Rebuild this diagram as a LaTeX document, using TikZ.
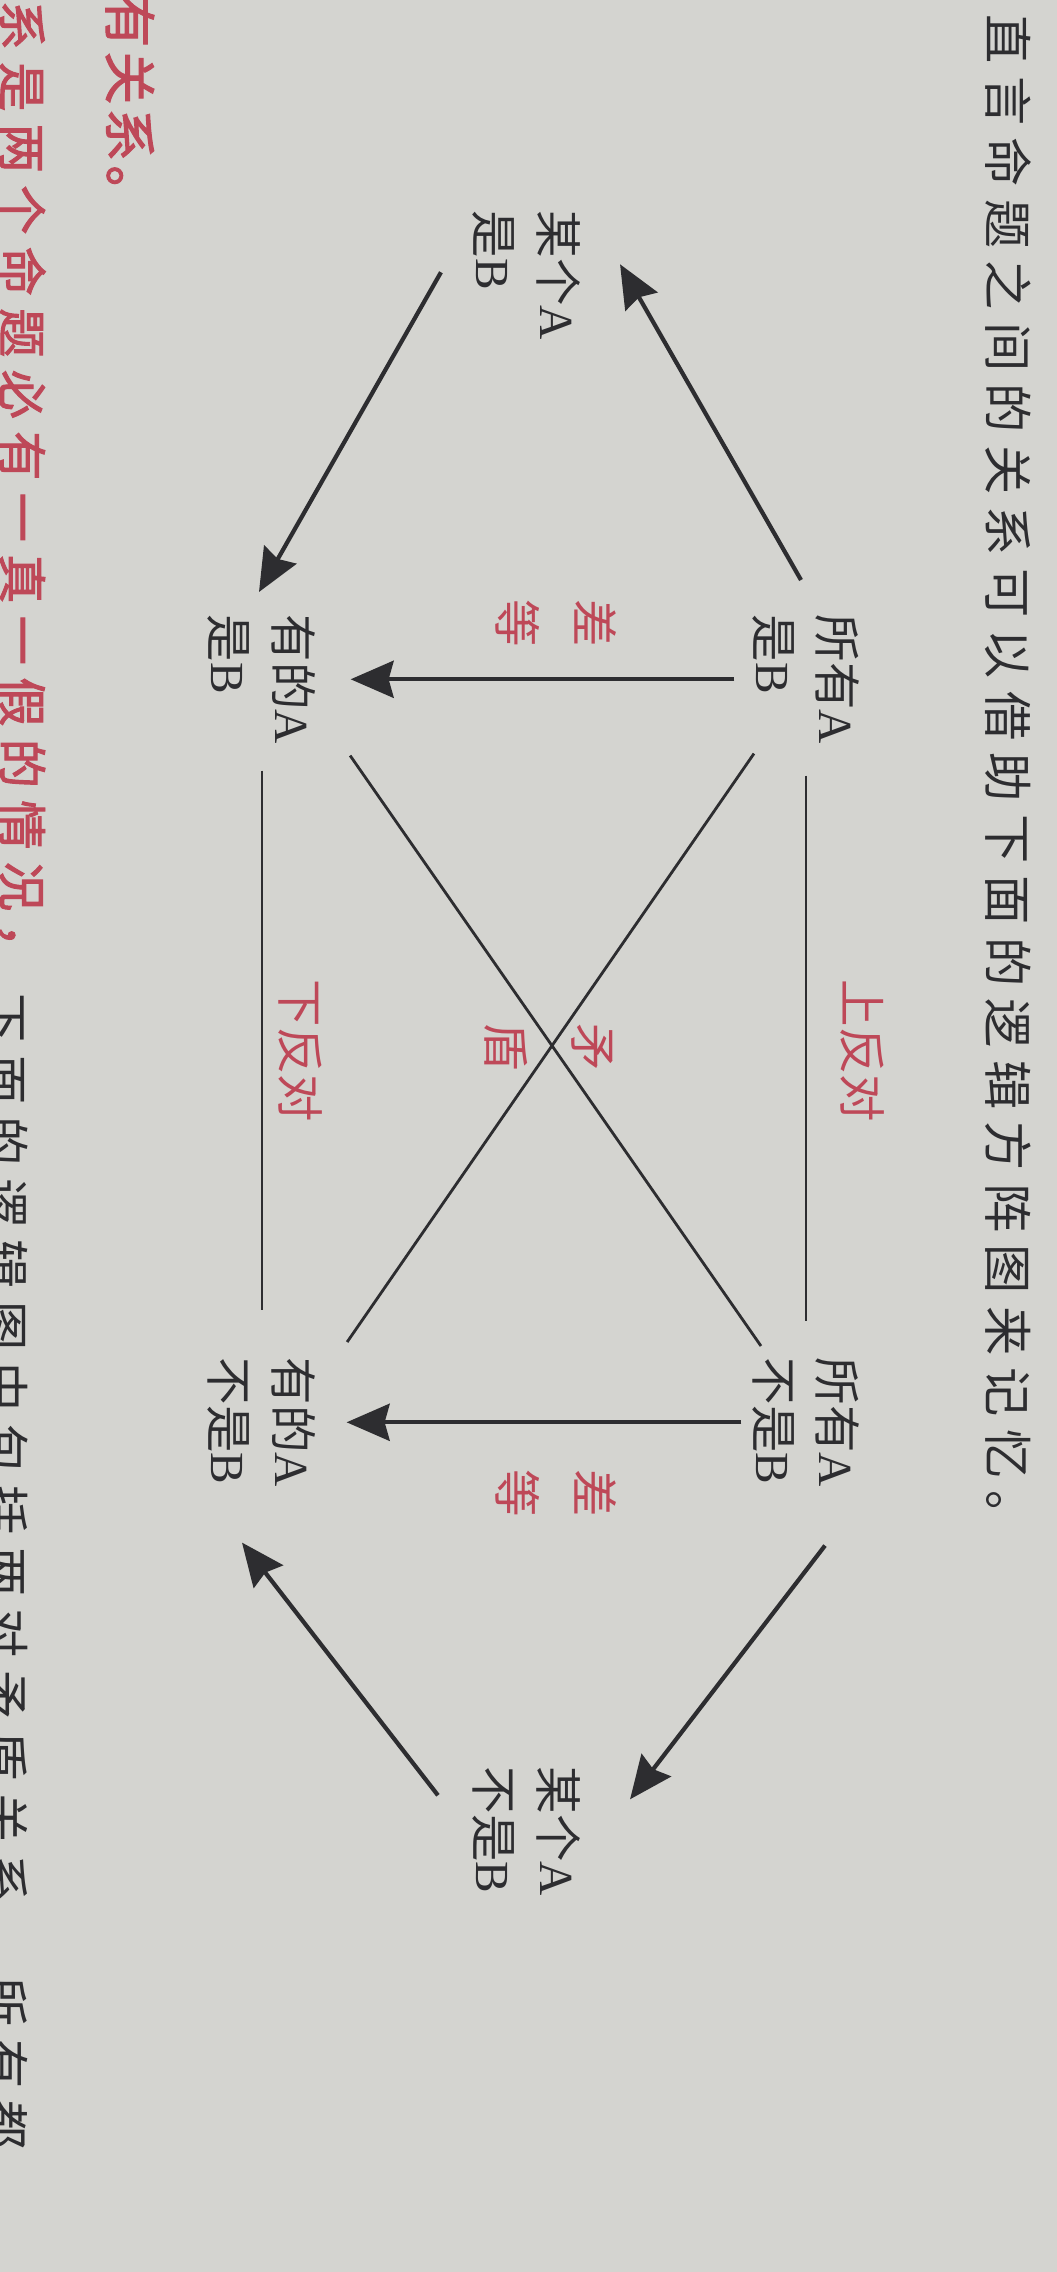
\documentclass[tikz,border=0pt]{standalone}
\usepackage{fontspec}
\setmainfont{Noto Sans CJK SC}
\newfontfamily\lat{Liberation Serif}
\newfontfamily\headfont{Noto Sans CJK SC}[LetterSpace=25]
\newfontfamily\notefont{Noto Sans CJK SC}[LetterSpace=25,FakeBold=2]
\newfontfamily\notefontb{Noto Sans CJK SC}[LetterSpace=8,FakeBold=2]
\usetikzlibrary{arrows.meta}
\definecolor{ink}{RGB}{45,45,48}
\definecolor{redink}{RGB}{190,72,88}
\definecolor{paper}{RGB}{212,212,208}

\begin{document}
\begin{tikzpicture}[rotate=-90, transform shape,
  prop/.style={align=left, inner sep=0pt, text=ink, font=\fontsize{13.5pt}{18.2pt}\selectfont},
  rel/.style={align=center, inner sep=0pt, text=redink, font=\fontsize{13.5pt}{22pt}\selectfont},
  pagetext/.style={anchor=west, inner sep=0pt},
  imp/.style={draw=ink, line width=1.2pt, -{Stealth[length=0.43cm, width=0.37cm, inset=0.05cm]}},
  opp/.style={draw=ink, line width=0.8pt}]

\def\lx{6.14};
\def\rx{13.57};
\def\ox{2.10};
\def\oox{17.66};
\def\topy{8.06};
\def\midy{5.27};
\def\boty{2.62};

\useasboundingbox (0,0) rectangle (22.72,10.56);
\fill[paper] (-0.2,-0.2) rectangle (22.92,10.76);
\clip (0,0) rectangle (22.72,10.56);

% page text round the square
\node[pagetext, text=ink, font=\headfont\fontsize{14pt}{17pt}\selectfont] (head) at (0.14,10.08) {直言命题之间的关系可以借助下面的逻辑方阵图来记忆。};
\node[pagetext, text=redink, font=\notefontb\fontsize{15pt}{18pt}\selectfont] (prevline) at (-0.06,1.30) {有关系。};
\node[pagetext, text=redink, font=\notefont\fontsize{14pt}{17pt}\selectfont] (rule) at (0,0.22) {系是两个命题必有一真一假的情况，};
\node[pagetext, text=ink, font=\headfont\fontsize{14pt}{17pt}\selectfont] (nextline) at (9.93,0.05) {下面的逻辑图中包括两对矛盾关系，所有都};

% propositions
\node[prop, anchor=west] (allAB) at (\lx,\topy) {所有{\lat A}\\是{\lat B}};
\node[prop, anchor=west] (allAnotB) at (\rx,\topy) {所有{\lat A}\\不是{\lat B}};
\node[prop, anchor=west] (someAB) at (\lx,\boty) {有的{\lat A}\\是{\lat B}};
\node[prop, anchor=west] (someAnotB) at (\rx,\boty) {有的{\lat A}\\不是{\lat B}};
\node[prop, anchor=west] (oneAB) at (\ox,\midy) {某个{\lat A}\\是{\lat B}};
\node[prop, anchor=west] (oneAnotB) at (\oox,\midy) {某个{\lat A}\\不是{\lat B}};

% subalternation
\draw[imp] ([shift={(-0.34,-0.05)}]allAB.west) -- ([shift={(-0.11,0.385)}]oneAB.north);
\draw[imp] ([shift={(-0.03,-0.315)}]oneAB.south) -- ([shift={(-0.22,-0.03)}]someAB.west);
\draw[imp, shorten <=.17cm, shorten >=.34cm] (allAB.south) -- (allAB.south |- someAB.north) node[rel, left=.3cm, pos=.45] {差\\等};
\draw[imp, shorten <=.1cm, shorten >=.3cm] (allAnotB.south) -- (allAnotB.south |- someAnotB.north) node[rel, right=.45cm, pos=.45] {差\\等};
\draw[imp] ([shift={(0.58,0.19)}]allAnotB.east) -- ([shift={(-0.32,0.485)}]oneAnotB.north);
\draw[imp] ([shift={(-0.36,-0.345)}]oneAnotB.south) -- ([shift={(0.55,-0.20)}]someAnotB.east);

% contraries and contradictories
\draw[opp, shorten <=.31cm, shorten >=.36cm] (allAB.east) -- (allAnotB.west) node[rel, above=.33cm, midway] {上反对};
\draw[opp, shorten <=.26cm, shorten >=.47cm] (someAB.east) -- (someAnotB.west) node[rel, above=.15cm, midway] {下反对};
\draw[opp] ([shift={(0.09,0.025)}]allAB.south east) -- ([shift={(-0.15,0.305)}]someAnotB.north west);
\draw[opp] ([shift={(0.11,0.335)}]someAB.north east) -- ([shift={(-0.11,0.095)}]allAnotB.south west);
\node[rel] (contra) at (10.47,5.49) {矛\\[.1cm]盾};
\end{tikzpicture}
\end{document}
